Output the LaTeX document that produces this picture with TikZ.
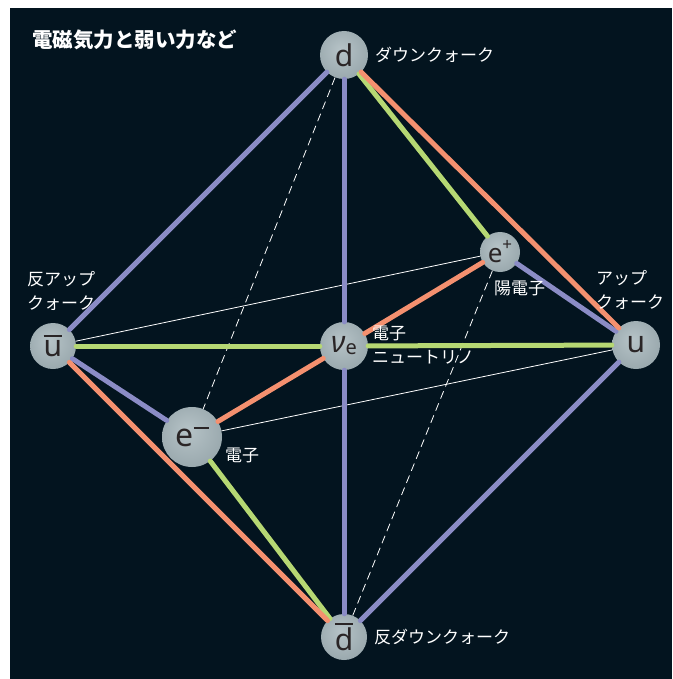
\documentclass[tikz,border=0pt]{standalone}
\usepackage{fontspec}
\setmainfont{Noto Sans}
\newfontfamily\cjk{Noto Sans CJK JP}
\definecolor{bgc}{HTML}{03141F}
\definecolor{qblue}{HTML}{8B8CC6}
\definecolor{qgreen}{HTML}{B6D873}
\definecolor{qorange}{HTML}{F4906F}
\definecolor{sphA}{HTML}{B6C3C7}
\definecolor{sphB}{HTML}{98A7AC}
\definecolor{sphC}{HTML}{6C7D84}
\definecolor{letter}{HTML}{2A2526}
\pgfdeclareradialshading{sph}{\pgfpoint{-4bp}{6bp}}{color(0bp)=(sphA); color(30bp)=(sphB); color(50bp)=(sphC)}
\newcommand{\barred}[2]{{\setbox0\hbox{#1}\rlap{\raisebox{\dimexpr\ht0+#2\relax}{\rule{\wd0}{2pt}}}#1}}
\tikzset{
  sphere/.style={circle, shade, shading=sph, inner sep=0pt, text=letter, font=\fontsize{30}{30}\selectfont},
  lbl/.style={text=white, font=\cjk\fontsize{17}{24}\selectfont, inner sep=0pt, anchor=west, align=left},
  con/.style={line width=5pt, line cap=round},
  cblue/.style={con, draw=qblue},
  cgreen/.style={con, draw=qgreen},
  corange/.style={con, draw=qorange},
  thinw/.style={draw=white, line width=0.8pt},
  dashw/.style={draw=white, line width=0.8pt, dash pattern=on 8pt off 5pt},
}
\begin{document}
\begin{tikzpicture}[x=1pt, y=-1pt]
\useasboundingbox (0,0) rectangle (672,679);
\fill[white] (0,0) rectangle (672,679);
\fill[bgc] (10,8) rectangle (672,679);
\node[text=white, font=\cjk\bfseries\fontsize{20.5}{24}\selectfont, anchor=west, inner sep=0pt] (title) at (32,40) {電磁気力と弱い力など};
% particles
\node[sphere, minimum size=48pt] (d) at (344,55) {\raisebox{-4pt}{d}};
\node[sphere, minimum size=46pt] (db) at (344,637) {\raisebox{-6pt}{\barred{d}{2pt}}};
\node[sphere, minimum size=46pt] (ub) at (53,346) {\raisebox{-2pt}{\barred{u}{4pt}}};
\node[sphere, minimum size=48pt] (u) at (636,345) {\raisebox{-2pt}{u}};
\node[sphere, minimum size=48pt] (nu) at (344,346) {{\itshape ν}\raisebox{-2pt}{\fontsize{20}{20}\selectfont e}};
\node[sphere, minimum size=40pt, font=\fontsize{26}{26}\selectfont] (ep) at (500,252) {\raisebox{-3pt}{e}\raisebox{9pt}{\fontsize{17}{17}\selectfont +}};
\node[sphere, minimum size=60pt, font=\fontsize{32}{32}\selectfont] (em) at (192,437) {\raisebox{-3pt}{e}\hspace{0.5pt}\raisebox{15pt}{\rule{15pt}{1.6pt}}};
% thin and dashed lines
\draw[thinw] (ub) -- (ep);
\draw[thinw] (em) -- (u);
\draw[dashw] (d) -- (em);
\draw[dashw] (ep) -- (db);
% coloured connectors
\draw[cblue] (d) -- (ub);
\draw[cblue] (d) -- (nu);
\draw[cblue] (nu) -- (db);
\draw[cblue] (ep) -- (u);
\draw[cblue] (ub) -- (em);
\draw[cblue] (u) -- (db);
\draw[cgreen] (d) -- (ep);
\draw[cgreen] (ub) -- (nu);
\draw[cgreen] (nu) -- (u);
\draw[cgreen] (em) -- (db);
\draw[corange] (d) -- (u);
\draw[corange] (ep) -- (nu);
\draw[corange] (ub) -- (db);
\draw[corange] (em) -- (nu);
% labels
\node[lbl] (ld) at (375,55) {ダウンクォーク};
\node[lbl] (ldb) at (374,637) {反ダウンクォーク};
\node[lbl] (lep) at (494,288) {陽電子};
\node[lbl] (lu) at (596,290) {アップ\\クォーク};
\node[lbl] (lub) at (27,291) {反アップ\\クォーク};
\node[lbl] (lnu) at (372,345) {電子\\ニュートリノ};
\node[lbl] (lem) at (225,455) {電子};
\end{tikzpicture}
\end{document}
